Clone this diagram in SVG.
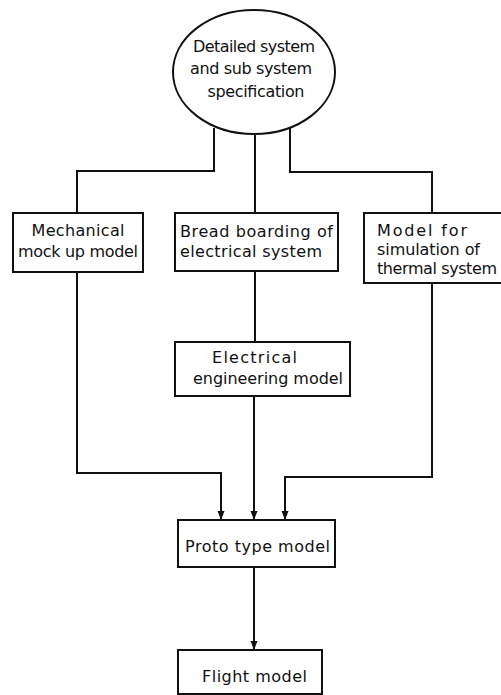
<svg xmlns="http://www.w3.org/2000/svg" width="501" height="695" viewBox="0 0 501 695">
  <style>
    .box { fill: #fff; stroke: #111; stroke-width: 2; }
    .wire { fill: none; stroke: #111; stroke-width: 2; }
    .lbl { font-family: "DejaVu Sans", "Liberation Sans", sans-serif; font-size: 16px; fill: #111; }
    .mid { text-anchor: middle; }
  </style>
  <defs>
    <marker id="down" markerUnits="userSpaceOnUse" markerWidth="10" markerHeight="10" viewBox="0 0 10 10" refX="5" refY="10" orient="0">
      <path d="M1.5,1 L8.5,1 L5,10 Z" fill="#111"/>
    </marker>
  </defs>
  <rect width="501" height="695" fill="#fff"/>

  <!-- connectors -->
  <g id="connectors">
    <path class="wire" d="M214,128 V171 H77 V213"/>
    <path class="wire" d="M255,135 V213"/>
    <path class="wire" d="M290,128 V172 H432 V213"/>
    <path class="wire" d="M255,271 V342"/>
    <path class="wire" d="M77,272 V473 H221 V520" marker-end="url(#down)"/>
    <path class="wire" d="M254,396 V520" marker-end="url(#down)"/>
    <path class="wire" d="M432,283 V477 H285 V520" marker-end="url(#down)"/>
    <path class="wire" d="M254,567 V650" marker-end="url(#down)"/>
  </g>

  <!-- specification -->
  <g id="spec">
    <ellipse class="box" cx="254" cy="72" rx="81" ry="62"/>
    <text class="lbl mid" x="254" y="52" textLength="122">Detailed system</text>
    <text class="lbl mid" x="251" y="74" textLength="122">and sub system</text>
    <text class="lbl mid" x="256" y="97" textLength="97">specification</text>
  </g>

  <!-- mechanical mockup -->
  <g id="mechanical">
    <rect class="box" x="13" y="213" width="130" height="59"/>
    <text class="lbl mid" x="78" y="236" textLength="93">Mechanical</text>
    <text class="lbl mid" x="78" y="257" textLength="120">mock up model</text>
  </g>

  <!-- bread boarding -->
  <g id="breadboard">
    <rect class="box" x="175" y="213" width="163" height="58"/>
    <text class="lbl" x="180" y="237" textLength="153">Bread boarding of</text>
    <text class="lbl" x="180" y="257" textLength="142">electrical system</text>
  </g>

  <!-- thermal simulation -->
  <g id="thermal">
    <rect class="box" x="364" y="213" width="145" height="70"/>
    <text class="lbl" x="377" y="236" textLength="90">Model for</text>
    <text class="lbl" x="377" y="255" textLength="103">simulation of</text>
    <text class="lbl" x="377" y="274" textLength="120">thermal system</text>
  </g>

  <!-- electrical engineering model -->
  <g id="engineering">
    <rect class="box" x="175" y="342" width="175" height="54"/>
    <text class="lbl" x="212" y="363" textLength="85">Electrical</text>
    <text class="lbl" x="193" y="384" textLength="150">engineering model</text>
  </g>

  <!-- prototype -->
  <g id="prototype">
    <rect class="box" x="178" y="520" width="157" height="47"/>
    <text class="lbl" x="185" y="552" textLength="145">Proto type model</text>
  </g>

  <!-- flight model -->
  <g id="flight">
    <rect class="box" x="178" y="650" width="144" height="44"/>
    <text class="lbl" x="202" y="682" textLength="105">Flight model</text>
  </g>
</svg>
